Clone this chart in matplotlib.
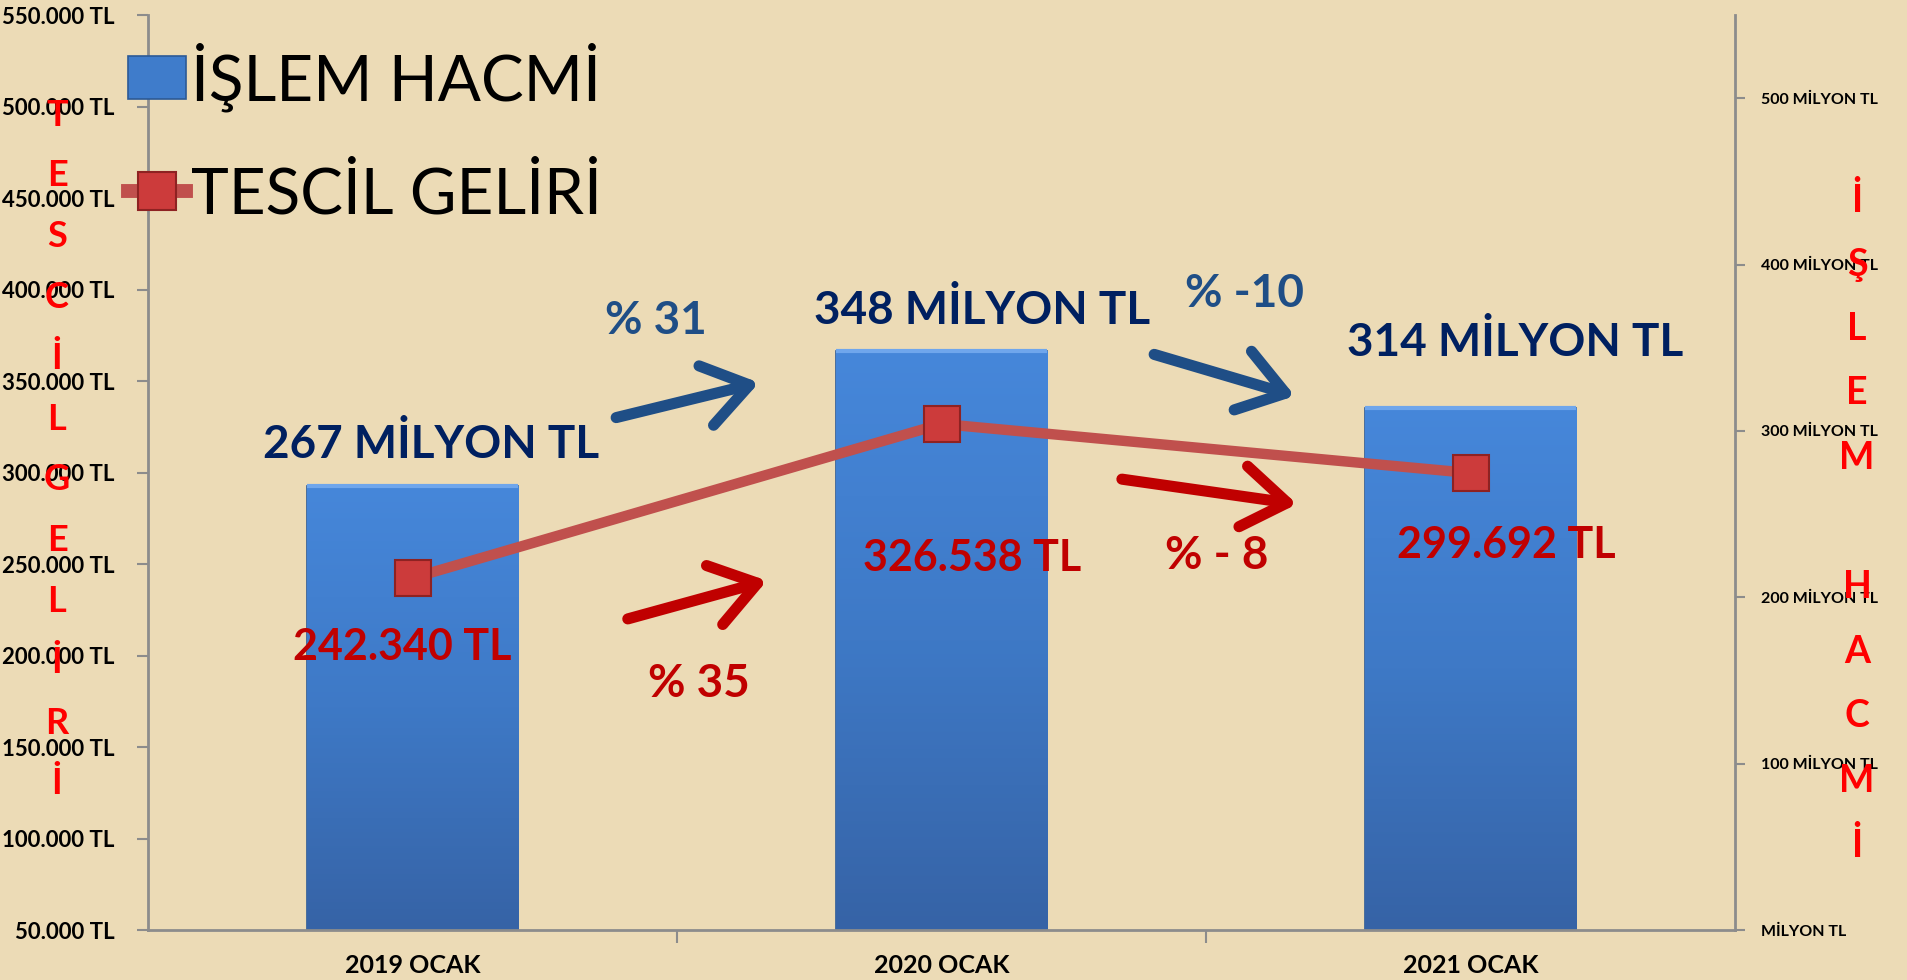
import numpy as np
import matplotlib
matplotlib.use("Agg")
import matplotlib.pyplot as plt
from matplotlib.patches import FancyArrowPatch, Patch
from matplotlib.lines import Line2D
from matplotlib.ticker import FuncFormatter, FixedLocator

# Veriler
kategoriler = ["2019 OCAK", "2020 OCAK", "2021 OCAK"]
islem_hacmi = [267, 348, 314]              # milyon TL (sag eksen)
tescil_geliri = [242340, 326538, 299692]   # TL (sol eksen)
hacim_etiket = ["267 MİLYON TL", "348 MİLYON TL", "314 MİLYON TL"]
gelir_etiket = ["242.340 TL", "326.538 TL", "299.692 TL"]
hacim_degisim = ["% 31", "% -10"]
gelir_degisim = ["% 35", "% - 8"]

plt.rcParams['font.family'] = ['Lato', 'DejaVu Sans']
plt.rcParams['font.weight'] = 'bold'

W, H = 1907, 980
arka = '#ECDBB6'
gri = '#8C8C8C'
lacivert = '#002060'
mavi = '#1F4E86'
kirmizi = '#C00000'

fig = plt.figure(figsize=(W / 100, H / 100), dpi=100, facecolor=arka)
ax = fig.add_axes([148 / W, 50 / H, (1735 - 148) / W, 915 / H])
ax.set_facecolor(arka)
ax2 = ax.twinx()

x = np.arange(len(kategoriler))

# sutunlar (sag eksen) - gradyanli
bars = ax.bar(x, islem_hacmi, width=0.40, color='#3F7CCB', edgecolor='#2C5A96', linewidth=1.2, zorder=2)
grad = np.linspace(0, 1, 256).reshape(-1, 1)
cmap = matplotlib.colors.LinearSegmentedColormap.from_list('b', ['#3663A6', '#3E79C6', '#4687DA'])
for b in bars:
    x0, y0 = b.get_x(), b.get_y()
    im = ax.imshow(grad, cmap=cmap, origin='lower', aspect='auto',
                   extent=[x0, x0 + b.get_width(), y0, y0 + b.get_height()], zorder=2.1)
    im.set_clip_path(b)
    ax.plot([x0, x0 + b.get_width()], [b.get_height()] * 2, color='#6FA6EC', lw=3, zorder=2.2,
            solid_capstyle='butt')

ax.set_xlim(-0.5, 2.5)
ax.set_ylim(0, 550)
ax.yaxis.tick_right()
ax.yaxis.set_major_locator(FixedLocator(range(0, 600, 100)))
ax.yaxis.set_major_formatter(FuncFormatter(lambda v, p: "MİLYON TL" if v == 0 else f"{int(v)} MİLYON TL"))
ax.tick_params(axis='y', which='major', direction='out', length=7, width=1.5, color=gri,
               labelsize=11.5, pad=12)
ax.set_xticks(x)
ax.set_xticklabels(kategoriler)
ax.set_xticks([0.5, 1.5], minor=True)
ax.tick_params(axis='x', which='major', length=0, labelsize=18, pad=17)
ax.tick_params(axis='x', which='minor', length=9, width=1.5, color=gri, direction='out')
for s in ['top', 'left']:
    ax.spines[s].set_visible(False)
for s in ['bottom', 'right']:
    ax.spines[s].set_color(gri)
    ax.spines[s].set_linewidth(2)

# cizgi (sol eksen)
ax2.plot(x, tescil_geliri, color='#C0504D', lw=7.5, marker='s', markersize=26,
         markerfacecolor='#CC3B3B', markeredgecolor='#8E2222', markeredgewidth=1.5, zorder=3)
ax2.set_ylim(50000, 550000)
ax2.yaxis.tick_left()
ax2.yaxis.set_major_locator(FixedLocator(range(50000, 600000, 50000)))
ax2.yaxis.set_major_formatter(FuncFormatter(lambda v, p: f"{int(v):,}".replace(',', '.') + " TL"))
ax2.tick_params(axis='y', direction='out', length=8, width=1.5, color=gri, labelsize=16, pad=16)
for s in ['top', 'right', 'bottom']:
    ax2.spines[s].set_visible(False)
ax2.spines['left'].set_color(gri)
ax2.spines['left'].set_linewidth(2)

# deger etiketleri
hacim_ofset = [(19, 41), (41, 41), (45, 65)]
for xi, v, t, o in zip(x, islem_hacmi, hacim_etiket, hacim_ofset):
    ax.annotate(t, (xi, v), xytext=o, textcoords='offset pixels', ha='center', va='center',
                fontsize=33, color=lacivert, zorder=5)
gelir_ofset = [(-10, -69), (31, -134), (36, -72)]
for xi, v, t, o in zip(x, tescil_geliri, gelir_etiket, gelir_ofset):
    ax2.annotate(t, (xi, v), xytext=o, textcoords='offset pixels', ha='center', va='center',
                 fontsize=31, color=kirmizi, zorder=5)

# degisim oklari ve yuzdeler (sutun ekseni koordinatlarinda)
yuzde_konum_mavi = [(0.460, 366), (1.572, 382)]
yuzde_konum_kirmizi = [(0.542, 148), (1.521, 225)]
ok_mavi = [((0.385, 308), (0.655, 329)), ((1.402, 346), (1.668, 321))]
ok_kirmizi = [((0.407, 187), (0.670, 210)), ((1.341, 271), (1.672, 256))]

for t, p in zip(hacim_degisim, yuzde_konum_mavi):
    ax2.text(*p, t, transform=ax.transData, ha='center', va='center', fontsize=33, color=mavi, zorder=5)
for t, p in zip(gelir_degisim, yuzde_konum_kirmizi):
    ax2.text(*p, t, transform=ax.transData, ha='center', va='center', fontsize=33, color=kirmizi, zorder=5)
for oklar, c in [(ok_mavi, '#1F4E86'), (ok_kirmizi, '#C00000')]:
    for a, b in oklar:
        ok = FancyArrowPatch(a, b, transform=ax.transData, arrowstyle='->,head_length=32,head_width=22',
                             mutation_scale=1, lw=8, color=c, capstyle='round', joinstyle='round',
                             shrinkA=0, shrinkB=0, zorder=5)
        ax2.add_patch(ok)

# dikey eksen basliklari
for i, h in enumerate("TESCİL GELİRİ".replace(" ", "")):
    fig.text(57 / W, 1 - (115 + i * 60.8) / H, h, color='#FF0000', fontsize=26,
             ha='center', va='center')
for i, h in enumerate("İŞLEM HACMİ"):
    if h != " ":
        fig.text(1857 / W, 1 - (200 + i * 64.5) / H, h, color='#FF0000', fontsize=27,
                 ha='center', va='center')

# lejant
tutamak = [Patch(facecolor='#3F7CCB', edgecolor='#2C5A96', linewidth=1.2),
           Line2D([], [], color='#C0504D', lw=10, marker='s', markersize=27,
                  markerfacecolor='#CC3B3B', markeredgecolor='#8E2222', markeredgewidth=1.5)]
fig.legend(tutamak, ["İŞLEM HACMİ", "TESCİL GELİRİ"], loc='upper left',
           bbox_to_anchor=(128 / W, 1 - 42 / H), frameon=False,
           prop={'size': 46, 'weight': 'normal'}, handlelength=0.9, handleheight=0.66,
           handletextpad=0.08, labelspacing=0.85, borderpad=0, borderaxespad=0)

fig.savefig('out.png', dpi=100, facecolor=arka)
